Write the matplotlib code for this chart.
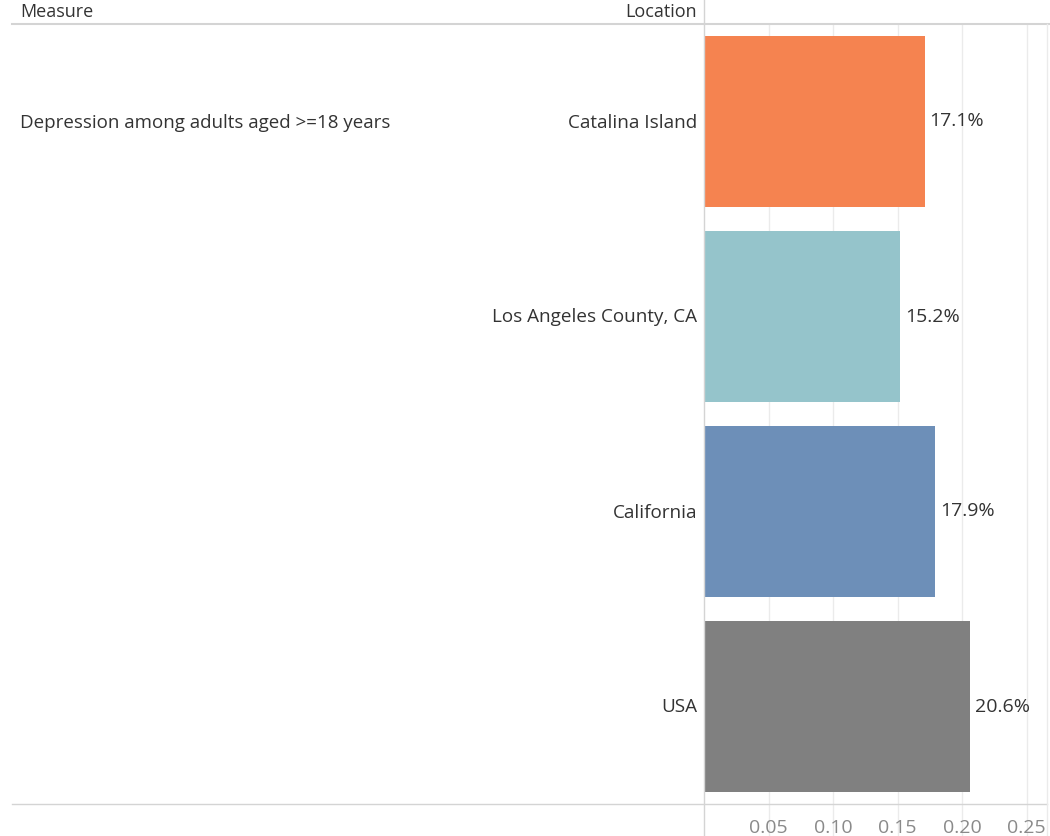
import matplotlib
matplotlib.use("Agg")
import matplotlib.pyplot as plt
from matplotlib.lines import Line2D

# Data
measure = "Depression among adults aged >=18 years"
locations = ["Catalina Island", "Los Angeles County, CA", "California", "USA"]
values = [0.171, 0.152, 0.179, 0.206]
colors = ["#F58350", "#95C4CB", "#6D8FB8", "#808080"]
tick_values = [0.05, 0.10, 0.15, 0.20, 0.25]
tick_labels = ["0.05", "0.10", "0.15", "0.20", "0.25"]

W, H = 1050, 836
plt.rcParams["font.family"] = ["Open Sans", "DejaVu Sans"]
fig = plt.figure(figsize=(W / 100, H / 100), dpi=100)

def fx(px):
    return px / W

def fy(py):
    return 1 - py / H

x0, x1 = 704, 1047
y_top, y_bot = 24, 804
ax = fig.add_axes([fx(x0), fy(y_bot), fx(x1 - x0), (y_bot - y_top) / H])
ax.set_xlim(0, (x1 - x0) / 1290)
ax.set_ylim(len(locations) - 0.5, -0.5)

grid_col = "#EBEBEB"
for t in tick_values:
    ax.axvline(t, ymin=-0.045, ymax=1, color=grid_col, lw=1, clip_on=False, zorder=0)

ypos = list(range(len(locations)))
ax.barh(ypos, values, height=0.875, color=colors, zorder=2)
for y, v in zip(ypos, values):
    ax.annotate(f"{v * 100:.1f}%", (v, y), xytext=(3.5, 0), textcoords="offset points",
                va="center", ha="left", fontsize=14, color="#333333")

ax.set_xticks(tick_values)
ax.set_xticklabels(tick_labels, fontsize=14, color="#8A8A8A")
ax.tick_params(axis="x", length=0, pad=11)
ax.set_yticks([])
for s in ax.spines.values():
    s.set_visible(False)
ax.patch.set_alpha(0)

# Frame lines
line_col = "#D4D4D4"
fig.add_artist(Line2D([fx(12), fx(W)], [fy(23.5), fy(23.5)], color=line_col, lw=1.5))
fig.add_artist(Line2D([fx(12), fx(x1)], [fy(804), fy(804)], color=line_col, lw=1))
fig.add_artist(Line2D([fx(703.5), fx(703.5)], [0, 1], color=line_col, lw=1))
fig.add_artist(Line2D([fx(1046.5), fx(1046.5)], [0, fy(24)], color=grid_col, lw=1))

# Header
fig.text(fx(20), fy(12), "Measure", ha="left", va="center", fontsize=13, color="#333333")
fig.text(fx(697), fy(12), "Location", ha="right", va="center", fontsize=13, color="#333333")

# Row labels
row_h = (y_bot - y_top) / len(locations)
for i, loc in enumerate(locations):
    yc = y_top + row_h * (i + 0.5)
    fig.text(fx(697), fy(yc + 1), loc, ha="right", va="center", fontsize=13.6, color="#333333")
fig.text(fx(20), fy(y_top + row_h * 0.5 + 1), measure, ha="left", va="center",
         fontsize=13.5, color="#333333")

fig.savefig("out.png", dpi=100)
